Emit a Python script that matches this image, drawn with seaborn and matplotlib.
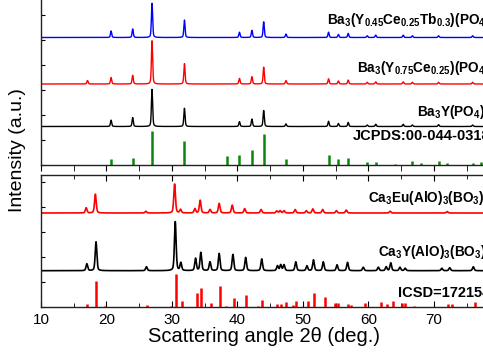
import numpy as np
import pandas as pd
import seaborn as sns
import matplotlib.pyplot as plt
from matplotlib.ticker import MultipleLocator

# ---- peak lists (2theta in deg, relative height) ----
bay_pos = [20.7, 24.0, 26.95, 31.9, 40.3, 42.2, 44.0, 47.4, 53.9, 55.4, 56.9,
           59.8, 61.1, 65.3, 66.7, 70.7, 75.9]
bay_black = [0.17, 0.24, 1.0, 0.49, 0.13, 0.2, 0.43, 0.07, 0.14, 0.08, 0.11,
             0.04, 0.06, 0.06, 0.04, 0.05, 0.04]
bay_blue = [0.19, 0.25, 1.0, 0.51, 0.155, 0.21, 0.46, 0.1, 0.155, 0.09, 0.12,
            0.05, 0.07, 0.07, 0.05, 0.05, 0.05]
bay_red_pos = [17.1] + bay_pos
bay_red = [0.08, 0.15, 0.2, 1.0, 0.47, 0.13, 0.17, 0.39, 0.08, 0.12, 0.07,
           0.09, 0.04, 0.05, 0.05, 0.04, 0.04, 0.04]

jcpds_pos = [20.7, 24.0, 26.95, 31.9, 38.35, 40.3, 42.2, 44.0, 47.4, 53.9, 55.4,
             56.9, 59.8, 61.1, 64.0, 66.7, 68.0, 70.7, 72.0, 75.9, 77.2]
jcpds_int = [0.17, 0.19, 1.0, 0.7, 0.25, 0.3, 0.45, 0.91, 0.16, 0.3, 0.16,
             0.19, 0.09, 0.08, 0.03, 0.11, 0.06, 0.11, 0.05, 0.06, 0.08]

cay_pos = [17.0, 18.4, 26.1, 30.5, 31.35, 33.6, 34.4, 35.8, 37.2, 39.3, 41.25,
           43.7, 46.1, 46.6, 47.1, 48.9, 50.6, 51.6, 53.1, 55.2, 56.8, 59.2,
           61.5, 62.7, 63.4, 64.8, 65.6, 71.2, 72.4, 76.0]
cay_int = [0.14, 0.59, 0.08, 1.0, 0.16, 0.25, 0.37, 0.18, 0.35, 0.33, 0.27,
           0.24, 0.1, 0.12, 0.12, 0.18, 0.1, 0.22, 0.18, 0.12, 0.17, 0.07,
           0.07, 0.08, 0.16, 0.07, 0.05, 0.05, 0.06, 0.08]

caeu_pos = [16.9, 18.3, 26.0, 30.4, 31.3, 33.5, 34.3, 35.8, 37.2, 39.2, 41.1,
            43.6, 46.0, 46.5, 47.1, 48.8, 50.5, 51.5, 53.0, 55.1, 56.6, 63.3, 72.0]
caeu_int = [0.18, 0.65, 0.06, 1.0, 0.12, 0.15, 0.44, 0.12, 0.33, 0.27, 0.15,
            0.12, 0.07, 0.08, 0.08, 0.12, 0.08, 0.14, 0.12, 0.08, 0.1, 0.06, 0.05]

icsd_pos = [17.07, 18.45, 19.77, 23.2, 26.2, 29.8, 30.6, 31.5, 33.8, 34.5, 36.0,
            37.4, 38.2, 39.4, 41.3, 43.2, 43.8, 46.1, 46.7, 47.4, 48.4, 49.0,
            50.7, 51.7, 53.4, 54.9, 55.4, 56.9, 57.4, 59.5, 61.9, 62.8, 63.7,
            65.1, 65.6, 66.9, 72.2, 72.7, 76.3]
icsd_int = [0.1, 0.79, 0.03, 0.02, 0.07, 0.03, 1.0, 0.19, 0.42, 0.59, 0.14,
            0.64, 0.03, 0.28, 0.37, 0.05, 0.22, 0.1, 0.1, 0.17, 0.08, 0.18,
            0.18, 0.42, 0.31, 0.13, 0.13, 0.1, 0.08, 0.12, 0.15, 0.1, 0.2,
            0.12, 0.13, 0.05, 0.1, 0.1, 0.15]

labels_top = [r'Ba$_\mathbf{3}$(Y$_\mathbf{0.45}$Ce$_\mathbf{0.25}$Tb$_\mathbf{0.3}$)(PO$_\mathbf{4}$)$_\mathbf{2}$',
              r'Ba$_\mathbf{3}$(Y$_\mathbf{0.75}$Ce$_\mathbf{0.25}$)(PO$_\mathbf{4}$)$_\mathbf{2}$',
              r'Ba$_\mathbf{3}$Y(PO$_\mathbf{4}$)$_\mathbf{2}$',
              'JCPDS:00-044-0318']
labels_bot = [r'Ca$_\mathbf{3}$Eu(AlO)$_\mathbf{3}$(BO$_\mathbf{3}$)$_\mathbf{4}$',
              r'Ca$_\mathbf{3}$Y(AlO)$_\mathbf{3}$(BO$_\mathbf{3}$)$_\mathbf{4}$',
              'ICSD=172154']

tt = np.linspace(10, 80, 4000)


def pattern(pos, amp, fwhm):
    # pseudo-voigt peak shape for each listed reflection
    y = np.zeros_like(tt)
    for p, a in zip(pos, amp):
        g = np.exp(-4 * np.log(2) * ((tt - p) / fwhm) ** 2)
        l = 1 / (1 + 4 * ((tt - p) / fwhm) ** 2)
        y += a * (0.6 * g + 0.4 * l)
    return y


plt.rcParams['font.family'] = ['Liberation Sans', 'DejaVu Sans']
plt.rcParams['mathtext.fontset'] = 'custom'
plt.rcParams['mathtext.rm'] = 'Liberation Sans'
plt.rcParams['mathtext.bf'] = 'Liberation Sans:bold'

fig = plt.figure(figsize=(4.83, 3.54), dpi=100)
W, H = 483, 354
x0 = 41 / W
aw = 458.5 / W
ax1 = fig.add_axes([x0, 1 - 164.7 / H, aw, 167.0 / H])
ax2 = fig.add_axes([x0, 1 - 307.3 / H, aw, 132.0 / H])

# top panel (units roughly pixel heights)
top = pd.DataFrame({'tt': tt,
                    'blue': 127.2 + 34.2 * pattern(bay_pos, bay_blue, 0.22),
                    'red': 80.7 + 43.3 * pattern(bay_red_pos, bay_red, 0.22),
                    'black': 38.2 + 37.2 * pattern(bay_pos, bay_black, 0.22)})
sns.lineplot(data=top, x='tt', y='blue', color='#0000ff', lw=1.0, ax=ax1)
sns.lineplot(data=top, x='tt', y='red', color='#ff0000', lw=1.0, ax=ax1)
sns.lineplot(data=top, x='tt', y='black', color='black', lw=1.0, ax=ax1)
ax1.vlines(jcpds_pos, 0, 33.5 * np.array(jcpds_int), color='#0a870a', lw=1.8)

bot = pd.DataFrame({'tt': tt,
                    'red': 94.3 + 29.0 * pattern(caeu_pos, caeu_int, 0.3),
                    'black': 36.6 + 49.0 * pattern(cay_pos, cay_int, 0.3)})
sns.lineplot(data=bot, x='tt', y='red', color='#ff0000', lw=1.2, ax=ax2)
sns.lineplot(data=bot, x='tt', y='black', color='black', lw=1.2, ax=ax2)
ax2.vlines(icsd_pos, 0, 33.3 * np.array(icsd_int), color='#ff0000', lw=1.8)

ax1.set_xlim(10, 80)
ax1.set_ylim(0, 167)
ax2.set_xlim(10, 80)
ax2.set_ylim(0, 132)

for ax in (ax1, ax2):
    ax.set_xlabel('')
    ax.set_ylabel('')
    ax.xaxis.set_major_locator(MultipleLocator(10))
    ax.xaxis.set_minor_locator(MultipleLocator(5))
    ax.yaxis.set_major_locator(MultipleLocator(25))
    ax.set_yticklabels([])
    for s in ax.spines.values():
        s.set_linewidth(1.0)
        s.set_color('#222222')

ax1.tick_params(axis='x', which='both', direction='out', length=4, labelbottom=False)
ax1.tick_params(axis='y', which='both', direction='in', length=3)
ax2.tick_params(axis='x', which='major', direction='in', length=4, top=True,
                labelsize=11, pad=4)
ax2.tick_params(axis='x', which='minor', direction='in', length=3, top=True)
ax2.tick_params(axis='y', which='both', direction='in', length=3)

fkw = dict(fontsize=9.8, fontweight='bold', va='baseline', ha='left')
tkw = dict(fontsize=10.5, fontweight='bold', va='baseline', ha='left')
ax1.text(53.62, 141.2, labels_top[0], **fkw)
ax1.text(58.2, 93.0, labels_top[1], **fkw)
ax1.text(67.45, 48.3, labels_top[2], **fkw)
ax1.text(57.68, 24.7, labels_top[3], **tkw)
ax2.text(59.97, 105.3, labels_bot[0], **fkw)
ax2.text(61.5, 51.3, labels_bot[1], **fkw)
ax2.text(64.55, 10.6, labels_bot[2], **tkw)

fig.text(18 / W, 1 - 150 / H, 'Intensity (a.u.)', rotation=90, fontsize=14,
         ha='center', va='center')
fig.text(263.5 / W, 1 - 337 / H, 'Scattering angle 2θ (deg.)', fontsize=14.5,
         ha='center', va='center')

fig.savefig('out.png', dpi=100)
